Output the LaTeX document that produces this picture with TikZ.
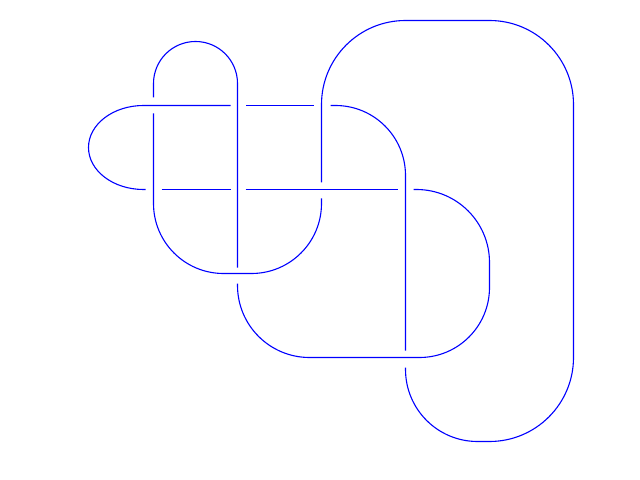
\documentclass[tikz,border=0pt]{standalone}
\begin{document}
\begin{tikzpicture}[x=1bp,y=-1bp,
  strand/.style={draw=blue,line width=1.1bp}]
\useasboundingbox (0,0) rectangle (640,480);
\begin{scope}[shift={(0.5,0.5)}]
% S1: left vertical down, U bottom, up to right vertical
\path[strand] (153,113) -- (153,203) arc[start angle=180,end angle=90,radius=70]
  -- (251,273) arc[start angle=90,end angle=0,radius=70] -- (321,198);
% S2: big outer arc
\path[strand] (321,182) -- (321,104) arc[start angle=180,end angle=270,radius=84]
  -- (489,20) arc[start angle=-90,end angle=0,radius=84]
  -- (573,357) arc[start angle=0,end angle=90,radius=84]
  -- (477,441) arc[start angle=90,end angle=180,radius=72] -- (405,367);
% S3: vertical x=405 up to corner, left along top row
\path[strand] (405,350) -- (405,175) arc[start angle=0,end angle=-90,radius=70] -- (330,105);
% S4
\path[strand] (313,105) -- (245,105);
% S5: top row to left loop
\path[strand] (230,105) -- (143,105)
  arc[start angle=-90,end angle=-270,x radius=55,y radius=42] -- (145,189);
% S6, S7
\path[strand] (161,189) -- (230,189);
\path[strand] (245,189) -- (397,189);
% S8: right D loop and lower row
\path[strand] (413,189) -- (416,189) arc[start angle=-90,end angle=0,radius=73]
  -- (489,287) arc[start angle=0,end angle=90,radius=70]
  -- (309,357) arc[start angle=90,end angle=180,radius=72] -- (237,283);
% S9: vertical x=237 up, top loop, down x=153
\path[strand] (237,267) -- (237,83) arc[start angle=0,end angle=-180,radius=42] -- (153,97);
\end{scope}
\end{tikzpicture}
\end{document}
